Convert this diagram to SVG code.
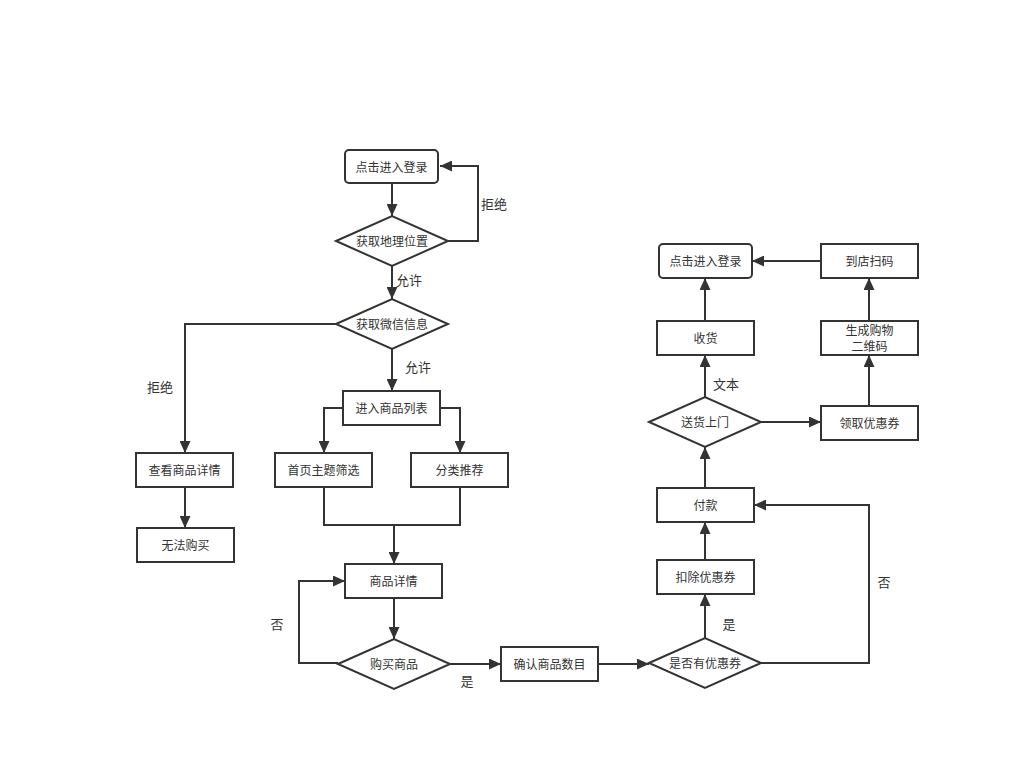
<svg xmlns="http://www.w3.org/2000/svg" width="1026" height="761" viewBox="0 0 1026 761">
<defs>
<marker id="arr" viewBox="0 0 12 11" refX="12" refY="5.5" markerWidth="12" markerHeight="11" markerUnits="userSpaceOnUse" orient="auto">
<path d="M0,0 L12,5.5 L0,11 Z" fill="#333"/>
</marker>
<style>
.box{fill:#fff;stroke:#333;stroke-width:2}
.t{font-family:"Liberation Sans","Noto Sans CJK SC",sans-serif;font-size:12px;fill:#333;text-anchor:middle;dominant-baseline:central}
.lbl{font-family:"Liberation Sans","Noto Sans CJK SC",sans-serif;font-size:13px;fill:#333;text-anchor:middle;dominant-baseline:central}
.e{fill:none;stroke:#333;stroke-width:2;marker-end:url(#arr)}
.n{fill:none;stroke:#333;stroke-width:2}
</style>
</defs>
<rect width="1026" height="761" fill="#fff"/>
<g id="connectors">
<path class="e" d="M392,183 V216"/>
<path class="e" d="M448,241 H478 V166 H440"/>
<path class="e" d="M392,266 V299"/>
<path class="e" d="M336,324 H185 V453"/>
<path class="e" d="M392,349 V391"/>
<path class="e" d="M343,408 H324 V453"/>
<path class="e" d="M440,408 H460 V453"/>
<path class="e" d="M185,487 V528"/>
<path class="e" d="M324,487 V525 H394 V564"/>
<path class="n" d="M460,487 V525 H394"/>
<path class="e" d="M394,598 V639"/>
<path class="e" d="M338,663 H299 V581 H345"/>
<path class="e" d="M450,664 H501"/>
<path class="e" d="M598,664 H649"/>
<path class="e" d="M705,638 V594"/>
<path class="e" d="M761,663 H869 V505 H754"/>
<path class="e" d="M705,560 V522"/>
<path class="e" d="M705,488 V447"/>
<path class="e" d="M705,397 V355"/>
<path class="e" d="M761,422 H821"/>
<path class="e" d="M869,406 V355"/>
<path class="e" d="M869,321 V278"/>
<path class="e" d="M821,261 H752"/>
<path class="e" d="M705,321 V278"/>
<text class="lbl" x="494" y="204">拒绝</text>
<text class="lbl" x="409" y="280">允许</text>
<text class="lbl" x="160" y="387">拒绝</text>
<text class="lbl" x="418" y="367">允许</text>
<text class="lbl" x="277" y="624">否</text>
<text class="lbl" x="467" y="681">是</text>
<text class="lbl" x="729" y="624">是</text>
<text class="lbl" x="884" y="582">否</text>
<text class="lbl" x="726" y="384">文本</text>
</g>
<g id="n1"><rect class="box" x="345" y="150" width="93" height="33" rx="4"/><text class="t" x="391.5" y="167.5">点击进入登录</text></g>
<g id="n2"><polygon class="box" points="336,241 392,216 448,241 392,266"/><text class="t" x="392" y="242">获取地理位置</text></g>
<g id="n3"><polygon class="box" points="336,324 392,299 448,324 392,349"/><text class="t" x="392" y="325">获取微信信息</text></g>
<g id="n4"><rect class="box" x="343" y="391" width="97" height="34"/><text class="t" x="391.5" y="409">进入商品列表</text></g>
<g id="n5"><rect class="box" x="275" y="453" width="97" height="34"/><text class="t" x="323.5" y="471">首页主题筛选</text></g>
<g id="n6"><rect class="box" x="411" y="453" width="97" height="34"/><text class="t" x="459.5" y="471">分类推荐</text></g>
<g id="n7"><rect class="box" x="136" y="453" width="97" height="34"/><text class="t" x="184.5" y="471">查看商品详情</text></g>
<g id="n8"><rect class="box" x="137" y="528" width="97" height="34"/><text class="t" x="185.5" y="546">无法购买</text></g>
<g id="n9"><rect class="box" x="345" y="564" width="97" height="34"/><text class="t" x="393.5" y="582">商品详情</text></g>
<g id="n10"><polygon class="box" points="338,664 394,639 450,664 394,689"/><text class="t" x="394" y="665">购买商品</text></g>
<g id="n11"><rect class="box" x="501" y="647" width="97" height="34"/><text class="t" x="549.5" y="665">确认商品数目</text></g>
<g id="n12"><polygon class="box" points="649,663 705,638 761,663 705,688"/><text class="t" x="705" y="664">是否有优惠券</text></g>
<g id="n13"><rect class="box" x="657" y="560" width="97" height="34"/><text class="t" x="705.5" y="578">扣除优惠券</text></g>
<g id="n14"><rect class="box" x="657" y="488" width="97" height="34"/><text class="t" x="705.5" y="506">付款</text></g>
<g id="n15"><polygon class="box" points="649,422 705,397 761,422 705,447"/><text class="t" x="705" y="423">送货上门</text></g>
<g id="n16"><rect class="box" x="657" y="321" width="97" height="34"/><text class="t" x="705.5" y="339">收货</text></g>
<g id="n17"><rect class="box" x="659" y="244" width="93" height="34" rx="4"/><text class="t" x="705.5" y="262">点击进入登录</text></g>
<g id="n18"><rect class="box" x="821" y="244" width="97" height="34"/><text class="t" x="869.5" y="262">到店扫码</text></g>
<g id="n19"><rect class="box" x="821" y="321" width="97" height="34"/><text class="t" x="869.5" y="331">生成购物</text><text class="t" x="869.5" y="347">二维码</text></g>
<g id="n20"><rect class="box" x="821" y="406" width="97" height="34"/><text class="t" x="869.5" y="424">领取优惠券</text></g>
</svg>
